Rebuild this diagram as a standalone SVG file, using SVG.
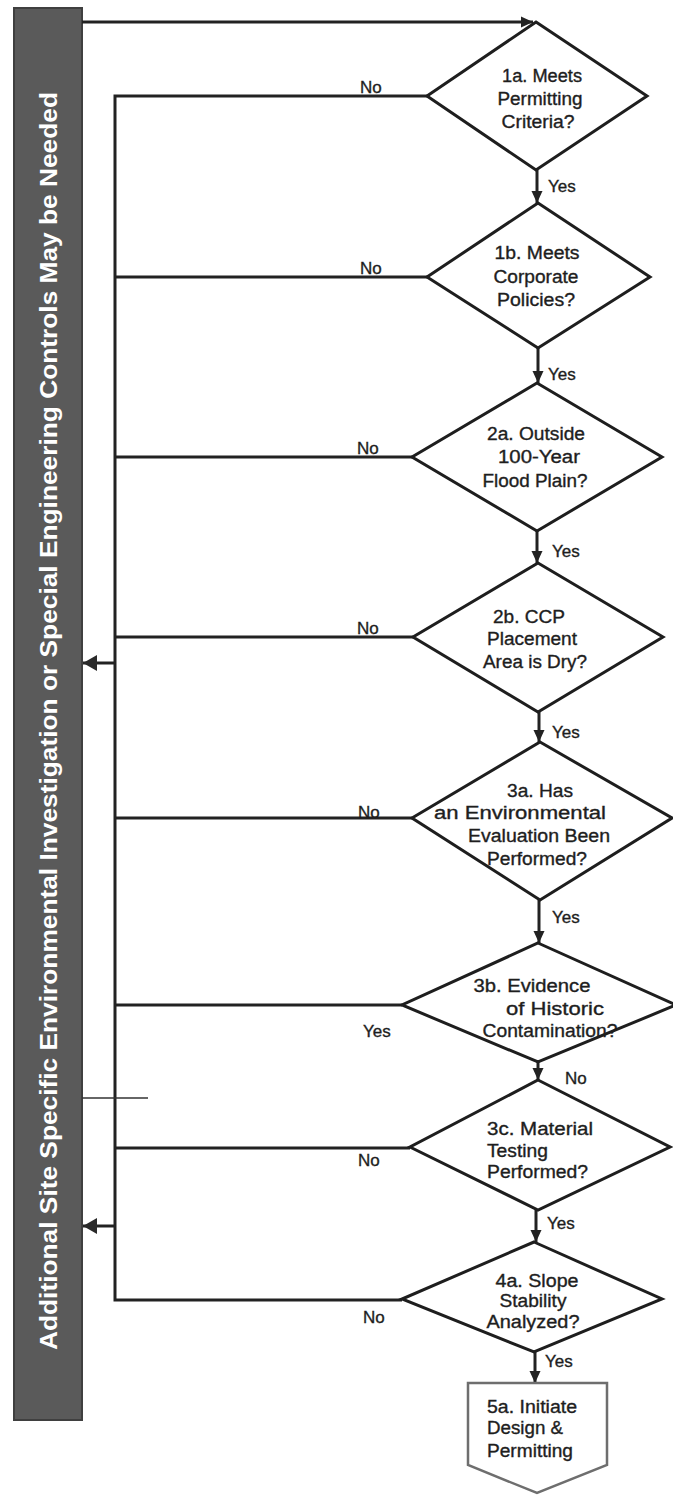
<svg xmlns="http://www.w3.org/2000/svg" width="673" height="1496" viewBox="0 0 673 1496">
<style>
.d{fill:#fff;stroke:#1e1e1e;stroke-width:3;stroke-linejoin:miter}
.t{font-family:"Liberation Sans",Arial,sans-serif;font-size:18px;fill:#1e1e1e;text-anchor:middle;stroke:#1e1e1e;stroke-width:0.35}
.tl{font-family:"Liberation Sans",Arial,sans-serif;font-size:18px;fill:#1e1e1e;stroke:#1e1e1e;stroke-width:0.35}
.lb{font-family:"Liberation Sans",Arial,sans-serif;font-size:17px;fill:#1e1e1e;stroke:#1e1e1e;stroke-width:0.35}
.c{fill:none;stroke:#222;stroke-width:3}
.bar{fill:#5a5a5a;stroke:#3f3f3f;stroke-width:2}
.bt{font-family:"Liberation Sans",Arial,sans-serif;font-size:24px;font-weight:bold;fill:#fff;text-anchor:middle}
</style>
<defs>
<marker id="ah" markerUnits="userSpaceOnUse" markerWidth="14" markerHeight="14" refX="12" refY="7" orient="auto">
<path d="M0,1.5 L12,7 L0,12.5 Z" fill="#222"/>
</marker>
<marker id="ahb" markerUnits="userSpaceOnUse" markerWidth="16" markerHeight="18" refX="14" refY="9" orient="auto">
<path d="M0,1 L14,9 L0,17 Z" fill="#2a2a2a"/>
</marker>
</defs>
<rect width="673" height="1496" fill="#fff"/>

<g id="bar">
<rect class="bar" x="14" y="8" width="68" height="1412"/>
<text class="bt" transform="translate(57,721) rotate(-90)" textLength="1258" lengthAdjust="spacingAndGlyphs">Additional Site Specific Environmental Investigation or Special Engineering Controls May be Needed</text>
</g>

<g id="connectors">
<path class="c" d="M82,22 H533" marker-end="url(#ah)"/>
<path class="c" d="M427,96 H115 V1300 H402"/>
<path class="c" d="M427,277 H115"/>
<path class="c" d="M412,457 H115"/>
<path class="c" d="M413,637 H115"/>
<path class="c" d="M412,818 H115"/>
<path class="c" d="M402,1005 H115"/>
<path class="c" d="M410,1148 H115"/>
<path class="c" d="M115,663 H83" marker-end="url(#ahb)"/>
<path class="c" d="M115,1226 H83" marker-end="url(#ahb)"/>
<path d="M82,1098 H148" stroke="#333" stroke-width="1.5" fill="none"/>
<path class="c" d="M537,170 V203" marker-end="url(#ah)"/>
<path class="c" d="M538,348 V383" marker-end="url(#ah)"/>
<path class="c" d="M537,531 V563" marker-end="url(#ah)"/>
<path class="c" d="M539,712 V742" marker-end="url(#ah)"/>
<path class="c" d="M539,900 V943" marker-end="url(#ah)"/>
<path class="c" d="M538,1062 V1080" marker-end="url(#ah)"/>
<path class="c" d="M536,1210 V1242" marker-end="url(#ah)"/>
<path class="c" d="M535,1352 V1383" marker-end="url(#ah)"/>
<text class="lb" x="360" y="93">No</text>
<text class="lb" x="360" y="274">No</text>
<text class="lb" x="357" y="454">No</text>
<text class="lb" x="357" y="634">No</text>
<text class="lb" x="358" y="818">No</text>
<text class="lb" x="363" y="1037">Yes</text>
<text class="lb" x="358" y="1166">No</text>
<text class="lb" x="363" y="1323">No</text>
<text class="lb" x="548" y="192">Yes</text>
<text class="lb" x="548" y="380">Yes</text>
<text class="lb" x="552" y="557">Yes</text>
<text class="lb" x="552" y="738">Yes</text>
<text class="lb" x="552" y="923">Yes</text>
<text class="lb" x="565" y="1084">No</text>
<text class="lb" x="547" y="1229">Yes</text>
<text class="lb" x="545" y="1367">Yes</text>
</g>

<g id="n1a">
<polygon class="d" points="536,22 647,96 536,170 427,96"/>
<text class="t" x="542" y="82" textLength="80" lengthAdjust="spacingAndGlyphs">1a. Meets</text>
<text class="t" x="540" y="105" textLength="85" lengthAdjust="spacingAndGlyphs">Permitting</text>
<text class="t" x="538" y="128" textLength="73" lengthAdjust="spacingAndGlyphs">Criteria?</text>
</g>
<g id="n1b">
<polygon class="d" points="538,203 650,277 538,348 427,277"/>
<text class="t" x="537" y="259" textLength="85" lengthAdjust="spacingAndGlyphs">1b. Meets</text>
<text class="t" x="536" y="283" textLength="85" lengthAdjust="spacingAndGlyphs">Corporate</text>
<text class="t" x="536" y="306" textLength="78" lengthAdjust="spacingAndGlyphs">Policies?</text>
</g>
<g id="n2a">
<polygon class="d" points="537,383 662,457 537,531 412,457"/>
<text class="t" x="536" y="440" textLength="98" lengthAdjust="spacingAndGlyphs">2a. Outside</text>
<text class="t" x="539" y="463" textLength="82" lengthAdjust="spacingAndGlyphs">100-Year</text>
<text class="t" x="535" y="487" textLength="105" lengthAdjust="spacingAndGlyphs">Flood Plain?</text>
</g>
<g id="n2b">
<polygon class="d" points="538,563 663,637 538,712 413,637"/>
<text class="t" x="529" y="623" textLength="72" lengthAdjust="spacingAndGlyphs">2b. CCP</text>
<text class="t" x="532" y="645" textLength="90" lengthAdjust="spacingAndGlyphs">Placement</text>
<text class="t" x="535" y="668" textLength="104" lengthAdjust="spacingAndGlyphs">Area is Dry?</text>
</g>
<g id="n3a">
<polygon class="d" points="540,742 672,818 540,900 412,818"/>
<text class="t" x="540" y="797" textLength="66" lengthAdjust="spacingAndGlyphs">3a. Has</text>
<text class="t" x="520" y="819" textLength="172" lengthAdjust="spacingAndGlyphs">an Environmental</text>
<text class="t" x="539" y="842" textLength="142" lengthAdjust="spacingAndGlyphs">Evaluation Been</text>
<text class="t" x="537" y="865" textLength="100" lengthAdjust="spacingAndGlyphs">Performed?</text>
</g>
<g id="n3b">
<polygon class="d" points="538,943 676,1005 538,1062 402,1005"/>
<text class="t" x="532" y="992" textLength="117" lengthAdjust="spacingAndGlyphs">3b. Evidence</text>
<text class="t" x="555" y="1015" textLength="98" lengthAdjust="spacingAndGlyphs">of Historic</text>
<text class="t" x="550" y="1037" textLength="135" lengthAdjust="spacingAndGlyphs">Contamination?</text>
</g>
<g id="n3c">
<polygon class="d" points="538,1080 670,1147 538,1210 410,1147"/>
<text class="tl" x="487" y="1135" textLength="106" lengthAdjust="spacingAndGlyphs">3c. Material</text>
<text class="tl" x="487" y="1157" textLength="61" lengthAdjust="spacingAndGlyphs">Testing</text>
<text class="tl" x="487" y="1178" textLength="101" lengthAdjust="spacingAndGlyphs">Performed?</text>
</g>
<g id="n4a">
<polygon class="d" points="534,1242 662,1299 534,1352 402,1299"/>
<text class="t" x="537" y="1287" textLength="83" lengthAdjust="spacingAndGlyphs">4a. Slope</text>
<text class="t" x="533" y="1307" textLength="67" lengthAdjust="spacingAndGlyphs">Stability</text>
<text class="t" x="533" y="1328" textLength="93" lengthAdjust="spacingAndGlyphs">Analyzed?</text>
</g>
<g id="n5a">
<polygon points="468,1383 607,1383 607,1465 537,1493 468,1465" fill="#fff" stroke="#6e6e6e" stroke-width="2.5"/>
<text class="tl" x="487" y="1413" textLength="90" lengthAdjust="spacingAndGlyphs">5a. Initiate</text>
<text class="tl" x="487" y="1434" textLength="76" lengthAdjust="spacingAndGlyphs">Design &amp;</text>
<text class="tl" x="487" y="1457" textLength="86" lengthAdjust="spacingAndGlyphs">Permitting</text>
</g>
</svg>
